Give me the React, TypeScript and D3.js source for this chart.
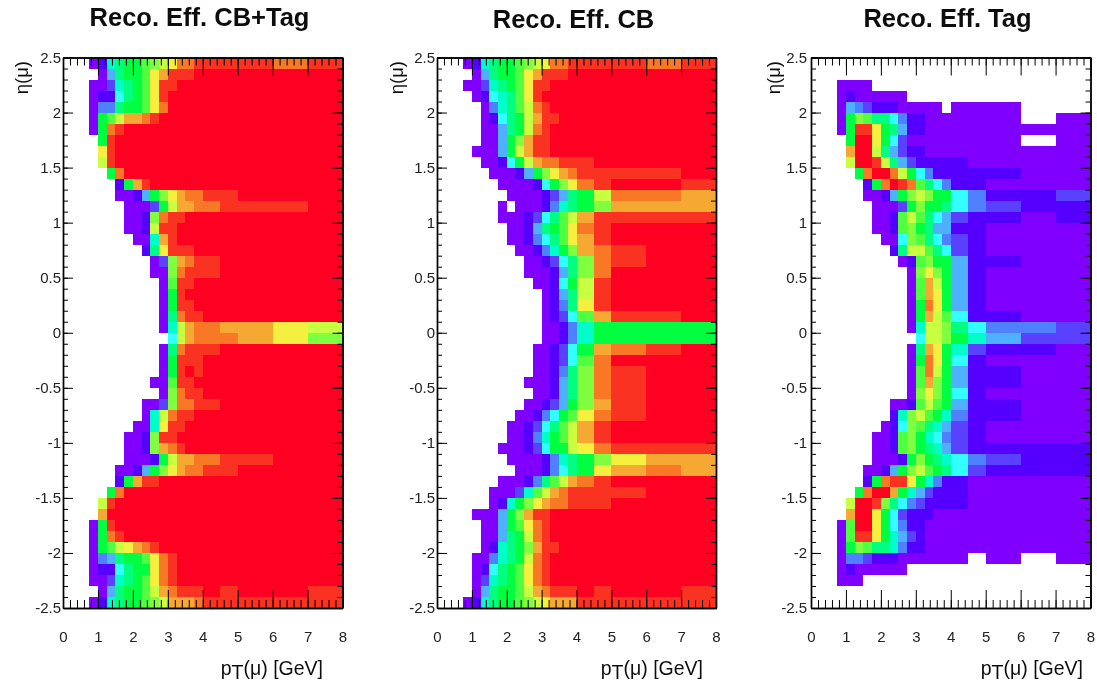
import React, { useEffect, useRef } from "react";
import * as d3 from "d3";

// one char per pT bin: "." = empty bin, otherwise efficiency level 0-g (base 17)
const ptEdges = [0.75, 1, 1.25, 1.5, 1.75, 2, 2.25, 2.5, 2.75, 3, 3.25, 3.5, 3.75, 4, 4.5, 5, 6, 7, 8];
const etaEdges = d3.range(51).map((i) => +(2.5 - i * 0.1).toFixed(1));

const xTicks = [0, 1, 2, 3, 4, 5, 6, 7, 8];
const yTicks = [2.5, 2, 1.5, 1, 0.5, 0, -0.5, -1, -1.5, -2, -2.5];
const xMinor = d3.range(41).map((i) => +(i * 0.2).toFixed(1));
const yMinor = etaEdges;

const effCbTag = [
  "016788" + "9abcee" + "ffffef",
  ".04788" + "9cdfff" + "gggggg",
  "002678" + "9cffgg" + "gggggg",
  "011578" + "9cfggg" + "gggggg",
  "033788" + "9ceggg" + "gggggg",
  "089bdd" + "efgggg" + "gggggg",
  "08efgg" + "gggggg" + "gggggg",
  ".8fggg" + "gggggg" + "gggggg",
  ".cfggg" + "gggggg" + "gggggg",
  ".bfggg" + "gggggg" + "gggggg",
  "..8egg" + "gggggg" + "gggggg",
  "...18d" + "fggggg" + "gggggg",
  "...001" + "48acde" + "effggg",
  "....00" + "028bdd" + "eefffg",
  "....00" + "1aeffg" + "gggggg",
  "....00" + "1bffgg" + "gggggg",
  ".....0" + "06dfgg" + "gggggg",
  "......" + "17cfff" + "gggggg",
  "......" + ".02ade" + "ffgggg",
  "......" + ".00aef" + "ffgggg",
  "......" + "..09ff" + "gggggg",
  "......" + "..08fg" + "gggggg",
  "......" + "..08ff" + "gggggg",
  "......" + "..07ef" + "fggggg",
  "......" + "..06bd" + "eeddcb",
  "......" + "...5bd" + "eeedca",
  "......" + "..07ef" + "ffgggg",
  "......" + "..08ff" + "fggggg",
  "......" + "..08fg" + "fggggg",
  "......" + ".009ff" + "gggggg",
  "......" + "..0aef" + "fggggg",
  "......" + "002aee" + "ffgggg",
  "......" + "06beff" + "gggggg",
  ".....0" + "06cffg" + "gggggg",
  "....00" + "1affgg" + "gggggg",
  "....00" + "1adefg" + "gggggg",
  "....00" + "018bdd" + "eeffgg",
  "...001" + "48acde" + "effggg",
  "...18d" + "ffgggg" + "gggggg",
  "..8egg" + "gggggg" + "gggggg",
  ".bfggg" + "gggggg" + "gggggg",
  ".dgggg" + "gggggg" + "gggggg",
  "08fggg" + "gggggg" + "gggggg",
  "08efgg" + "gggggg" + "gggggg",
  "089bcd" + "efgggg" + "gggggg",
  "034788" + "9cefgg" + "gggggg",
  "011578" + "8cefgg" + "gggggg",
  "002678" + "9cefgg" + "gggggg",
  ".04788" + "9bdeff" + "fgfggf",
  "016788" + "9abddd" + "efffff",
];

const effCb = [
  "016788" + "9abcee" + "ffffef",
  ".04788" + "9cdfff" + "gggggg",
  "002678" + "9cffgg" + "gggggg",
  ".01567" + "9cfggg" + "gggggg",
  "..0367" + "9befgg" + "gggggg",
  "..0157" + "8bdffg" + "gggggg",
  "..0047" + "8befgg" + "gggggg",
  "..0048" + "adffgg" + "gggggg",
  ".00048" + "bdffgg" + "gggggg",
  "..0015" + "8bdeef" + "ffgggg",
  "...000" + "148acd" + "effffg",
  "....00" + "00158a" + "cefggf",
  ".....0" + "000124" + "78beed",
  "....0." + "000136" + "78addd",
  "....00" + "012579" + "bdffff",
  ".....0" + "014789" + "cefggg",
  ".....0" + "013579" + "cdfggg",
  "......" + "001368" + "adefgg",
  "......" + ".00125" + "7aefgg",
  "......" + ".00014" + "7aeggg",
  "......" + "..0015" + "8bfggg",
  "......" + "...014" + "7bfggg",
  "......" + "...013" + "7cfggg",
  "......" + "...012" + "59dffg",
  "......" + "...001" + "368888",
  "......" + "...001" + "368888",
  "......" + "..0012" + "58defg",
  "......" + "..0012" + "59eggg",
  "......" + "..0013" + "7aefgg",
  "......" + ".00014" + "7aefgg",
  "......" + "..0014" + "7aefgg",
  "......" + ".00124" + "8adfgg",
  "......" + "001358" + "9cefgg",
  ".....0" + "012579" + "bdfggg",
  ".....0" + "013689" + "bdfggg",
  "....00" + "012588" + "bcefff",
  ".....0" + "000136" + "78acdd",
  "......" + "000135" + "78cded",
  "....00" + "01379b" + "defggg",
  "...000" + "269bde" + "ffffgg",
  "...016" + "8acdee" + "fffggg",
  ".00048" + "adffgg" + "gggggg",
  "..0048" + "9cefgg" + "gggggg",
  "..0047" + "8befgg" + "gggggg",
  "..0167" + "8adffg" + "gggggg",
  ".00367" + "8befgg" + "gggggg",
  ".01578" + "9cefgg" + "gggggg",
  ".02678" + "9cefgg" + "gggggg",
  ".04788" + "9bdeff" + "fgfggf",
  "016788" + "9abcdd" + "dfffff",
];

const effTag = [
  "......" + "......" + "......",
  "......" + "......" + "......",
  "0000.." + "......" + "......",
  "010000" + "00...." + "......",
  "043211" + "100000" + ".000..",
  "08a977" + "531100" + "0000.0",
  "08ffc8" + "741100" + "000000",
  ".8ggc8" + "520000" + "0000.0",
  ".dggb7" + "421100" + "000000",
  ".bggfb" + "742111" + "110000",
  "..8egg" + "eb8531" + "111100",
  "...18e" + "gfe975" + "311000",
  "...001" + "48aba8" + "853112",
  "....00" + "028a88" + "753211",
  "....00" + "19b975" + "421101",
  "....00" + "19a874" + "411000",
  ".....0" + "05a975" + "321000",
  "......" + "17bb97" + "521000",
  "......" + ".019a8" + "841100",
  "......" + "..0aca" + "841000",
  "......" + "..09db" + "841000",
  "......" + "..09dc" + "841000",
  "......" + "..08ec" + "841000",
  "......" + "..08db" + "951100",
  "......" + "..06bb" + "a75332",
  "......" + "...5bb" + "a86422",
  "......" + "..07dc" + "862110",
  "......" + "..08ec" + "851000",
  "......" + "..09eb" + "841100",
  "......" + "..09da" + "841100",
  "......" + "..0aca" + "851000",
  "......" + "0019b9" + "841100",
  "......" + "16ab98" + "631100",
  ".....0" + "15a976" + "421000",
  "....00" + "19a865" + "321000",
  "....00" + "19a876" + "421111",
  "....00" + "018a87" + "653211",
  "...001" + "48ab98" + "752111",
  "...18e" + "ffc863" + "110000",
  "..8egg" + "d86421" + "110000",
  ".bggfa" + "753211" + "110000",
  ".dggc8" + "521110" + "000000",
  "09ggc8" + "531100" + "000000",
  "09ffc8" + "642100" + "000000",
  "08a977" + "631100" + "000000",
  "033211" + "100000" + "00.0.0",
  "010000" + "00...." + "......",
  "000..." + "......" + "......",
  "......" + "......" + "......",
  "......" + "......" + "......",
];

const palette = [
  "#8000ff", "#5500ff", "#5a40ff", "#5080ff", "#50b0ff", "#30ffff", "#00ffc8", "#00ff80", "#00ff40",
  "#50ff40", "#80ff40", "#c8ff40", "#f5f040", "#f5a830", "#f87828", "#fa3020", "#ff0020",
];

const panels = [
  { title: "Reco. Eff. CB+Tag", rows: effCbTag, left: 63, right: 342.5, titleX: 199.5, titleY: 26, etaX: 22, labelGap: 2, ptEnd: 323 },
  { title: "Reco. Eff. CB", rows: effCb, left: 437, right: 716, titleX: 573.5, titleY: 28, etaX: 397, labelGap: 2, ptEnd: 703 },
  { title: "Reco. Eff. Tag", rows: effTag, left: 811, right: 1090.5, titleX: 947.5, titleY: 27, etaX: 774, labelGap: 4, ptEnd: 1083 },
];

const top = 57.5;
const bottom = 608;
const font = "'Liberation Sans', Arial, sans-serif";

export default function App() {
  const svgRef = useRef<SVGSVGElement>(null);

  useEffect(() => {
    const svg = d3.select(svgRef.current);
    svg.selectAll("*").remove();

    // the reference is a slightly soft, upscaled picture
    svg.append("defs").append("filter").attr("id", "soft")
      .append("feGaussianBlur").attr("stdDeviation", 0.55);
    const root = svg.append("g").attr("filter", "url(#soft)");

    const color = d3.scaleQuantize<string>().domain([0, 1]).range(palette);
    const y = d3.scaleLinear().domain([2.5, -2.5]).range([top, bottom]);

    panels.forEach((p) => {
      const x = d3.scaleLinear().domain([0, 8]).range([p.left, p.right]);
      const g = root.append("g");

      const cells = p.rows.flatMap((row, r) =>
        row.split("").map((ch, c) => ({ r, c, eff: ch === "." ? null : parseInt(ch, 17) / 16 }))
      ).filter((d) => d.eff !== null);

      g.selectAll("rect").data(cells).enter().append("rect")
        .attr("x", (d) => x(ptEdges[d.c]))
        .attr("y", (d) => y(etaEdges[d.r]))
        .attr("width", (d) => x(ptEdges[d.c + 1]) - x(ptEdges[d.c]))
        .attr("height", (d) => y(etaEdges[d.r + 1]) - y(etaEdges[d.r]))
        .attr("fill", (d) => color(d.eff as number))
        .attr("shape-rendering", "crispEdges");

      // === ticks on all four sides, pointing inward ===
      const blank = () => "";
      const axes = [
        { axis: d3.axisBottom(x).tickValues(xMinor).tickSize(-8), at: [0, bottom] },
        { axis: d3.axisBottom(x).tickValues(xTicks).tickSize(-18), at: [0, bottom] },
        { axis: d3.axisTop(x).tickValues(xMinor).tickSize(-8), at: [0, top] },
        { axis: d3.axisTop(x).tickValues(xTicks).tickSize(-18), at: [0, top] },
        { axis: d3.axisLeft(y).tickValues(yMinor).tickSize(-5), at: [p.left, 0] },
        { axis: d3.axisLeft(y).tickValues(yTicks).tickSize(-10), at: [p.left, 0] },
        { axis: d3.axisRight(y).tickValues(yMinor).tickSize(-5), at: [p.right, 0] },
        { axis: d3.axisRight(y).tickValues(yTicks).tickSize(-10), at: [p.right, 0] },
      ];
      axes.forEach(({ axis, at }) => {
        const a = g.append("g")
          .attr("transform", `translate(${at[0]},${at[1]})`)
          .call(axis.tickSizeOuter(0).tickFormat(blank as any) as any);
        a.selectAll(".tick line").attr("stroke", "#000").attr("stroke-width", 1);
        a.select(".domain").attr("stroke", "#000").attr("stroke-width", 1.4);
      });

      // === tick labels ===
      const xLabels = g.append("g")
        .attr("transform", `translate(0,${bottom})`)
        .call(d3.axisBottom(x).tickValues(xTicks).tickSize(0).tickPadding(23).tickFormat((d) => String(d)) as any);
      xLabels.select(".domain").remove();
      xLabels.selectAll("text").attr("font-family", font).attr("font-size", 15).attr("fill", "#222");

      const yLabels = g.append("g")
        .attr("transform", `translate(${p.left},0)`)
        .call(d3.axisLeft(y).tickValues(yTicks).tickSize(0).tickPadding(p.labelGap).tickFormat((d) => String(d)) as any);
      yLabels.select(".domain").remove();
      yLabels.selectAll("text").attr("font-family", font).attr("font-size", 15).attr("fill", "#222");

      // === titles ===
      g.append("text")
        .attr("x", p.titleX).attr("y", p.titleY)
        .attr("text-anchor", "middle")
        .attr("font-family", font).attr("font-weight", "bold").attr("font-size", 25.5)
        .attr("fill", "#111")
        .text(p.title);

      g.append("text")
        .attr("transform", `translate(${p.etaX + 6},61) rotate(-90)`)
        .attr("text-anchor", "end")
        .attr("font-family", font).attr("font-size", 18.5).attr("fill", "#111")
        .text("η(μ)");

      const pt = g.append("text")
        .attr("x", p.ptEnd).attr("y", 675)
        .attr("text-anchor", "end")
        .attr("font-family", font).attr("font-size", 19.5).attr("fill", "#111");
      pt.append("tspan").text("p");
      pt.append("tspan").attr("dy", 4).text("T");
      pt.append("tspan").attr("dy", -4).text("(μ) [GeV]");
    });
  }, []);

  return (
    <svg
      ref={svgRef}
      width={1097}
      height={685}
      style={{ position: "absolute", left: 0, top: 0, background: "#fff" }}
    />
  );
}
